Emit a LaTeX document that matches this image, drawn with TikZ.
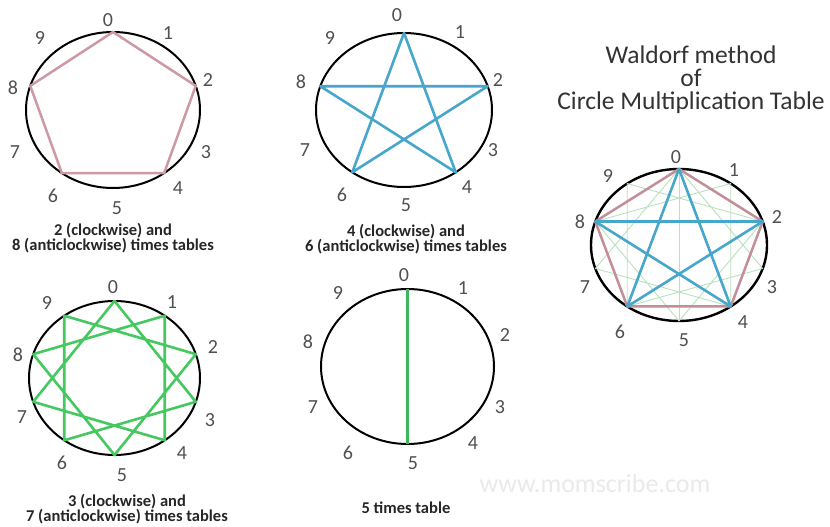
\documentclass[tikz,border=0pt]{standalone}
\usepackage{fontspec}
\setmainfont{Carlito}
\usetikzlibrary{calc}
\definecolor{rosepink}{HTML}{CD9AA4}
\definecolor{darkrose}{HTML}{C48E98}
\definecolor{starblue}{HTML}{46A7CB}
\definecolor{stargreen}{HTML}{45C860}
\definecolor{linegreen}{HTML}{3DB85A}
\definecolor{labelgray}{HTML}{505050}
\definecolor{titlegray}{HTML}{333333}
\definecolor{faintgreen}{HTML}{B8E2BE}
\definecolor{wmgray}{HTML}{EAEAEA}
\begin{document}
\begin{tikzpicture}[x=1pt,y=-1pt,
  rim/.style={draw=black, line width=2pt},
  numlabel/.style={text=labelgray, font=\fontsize{20}{24}\selectfont, inner sep=0pt},
  capt/.style={font=\bfseries\fontsize{16.5}{14}\selectfont, text=black!85, inner sep=0pt, align=center},
  titletext/.style={font=\fontsize{25.5}{23}\selectfont, text=titlegray, inner sep=0pt, align=center},
  pentaline/.style={draw=rosepink, line width=2.5pt, line join=round},
  bluestar/.style={draw=starblue, line width=2.6pt, line join=round},
  greenstar/.style={draw=stargreen, line width=2.6pt, line join=round},
  greenline/.style={draw=linegreen, line width=2.6pt},
  faintline/.style={draw=faintgreen, line width=0.9pt, line join=round}
]
\fill[white] (0,0) rectangle (830,527);
\useasboundingbox (0,0) rectangle (830,527);

% centres
\coordinate (A) at (113,110);
\coordinate (B) at (404,110);
\coordinate (C) at (114.5,378);
\coordinate (D) at (407.5,366.5);
\coordinate (E) at (679,245);

% rims
\draw[rim] (A) ellipse [x radius=87, y radius=78];
\draw[rim] (B) ellipse [x radius=88, y radius=77];
\draw[rim] (C) ellipse [x radius=85.5, y radius=77];
\draw[rim] (D) ellipse [x radius=86.5, y radius=77.5];
\draw[rim, line width=2.4pt] (E) ellipse [x radius=88, y radius=76];

% points on the rims
\foreach \k in {0,...,9}{
  \coordinate (A\k) at ($(A)+({-90+36*\k}:87 and 78)$);
  \coordinate (B\k) at ($(B)+({-90+36*\k}:88 and 77)$);
  \coordinate (C\k) at ($(C)+({-90+36*\k}:85.5 and 77)$);
  \coordinate (D\k) at ($(D)+({-90+36*\k}:86.5 and 77.5)$);
  \coordinate (E\k) at ($(E)+({-90+36*\k}:88 and 76)$);
}

% 2 / 8 times tables
\draw[pentaline] (A0) -- (A2) -- (A4) -- (A6) -- (A8) -- cycle;
% 4 / 6 times tables
\draw[bluestar] (B0) -- (B4) -- (B8) -- (B2) -- (B6) -- cycle;
% 3 / 7 times tables
\draw[greenstar] (C0) -- (C3) -- (C6) -- (C9) -- (C2) -- (C5) -- (C8) -- (C1) -- (C4) -- (C7) -- cycle;
% 5 times table
\draw[greenline] (D0) -- (D5);
% combined
\draw[faintline] (E0) -- (E3) -- (E6) -- (E9) -- (E2) -- (E5) -- (E8) -- (E1) -- (E4) -- (E7) -- cycle;
\draw[faintline] (E0) -- (E5);
\draw[pentaline, draw=darkrose] (E0) -- (E2) -- (E4) -- (E6) -- (E8) -- cycle;
\draw[bluestar] (E0) -- (E4) -- (E8) -- (E2) -- (E6) -- cycle;

% number labels
\foreach \k/\x/\y in {0/108/20,1/168/33,2/208/80,3/206/152,4/178/188,5/117/208,6/53/196,7/15/152,8/13/88,9/40/38}
  \node[numlabel] (Al\k) at (\x,\y) {\k};
\foreach \k/\x/\y in {0/397/15,1/460/32,2/498/80,3/493/150,4/467/187,5/406/205,6/342/195,7/305/150,8/301/82,9/330/38}
  \node[numlabel] (Bl\k) at (\x,\y) {\k};
\foreach \k/\x/\y in {0/113/287,1/172/302,2/213/347,3/210/420,4/182/453,5/122/475,6/62/463,7/22/417,8/18/355,9/47/303}
  \node[numlabel] (Cl\k) at (\x,\y) {\k};
\foreach \k/\x/\y in {0/404/275,1/463/288,2/505/335,3/500/407,4/473/443,5/413/463,6/348/453,7/313/407,8/308/342,9/338/293}
  \node[numlabel] (Dl\k) at (\x,\y) {\k};
\foreach \k/\x/\y in {0/676/157,1/734/170,2/777/217,3/772/287,4/743/322,5/684/340,6/620/332,7/585/287,8/580/222,9/608/176}
  \node[numlabel] (El\k) at (\x,\y) {\k};

% captions
\node[capt] (cap1) at (113,238) {2 (clockwise) and\\8 (anticlockwise) times tables};
\node[capt] (cap2) at (406,239) {4 (clockwise) and\\6 (anticlockwise) times tables};
\node[capt] (cap3) at (127,509) {3 (clockwise) and\\7 (anticlockwise) times tables};
\node[capt] (cap4) at (406,508) {5 times table};

% title
\node[titletext] (title) at (691,80) {Waldorf method\\of\\Circle Multiplication Table};

% watermark
\node[font=\fontsize{26}{30}\selectfont, text=wmgray, inner sep=0pt] (wm) at (595,484) {www.momscribe.com};
\end{tikzpicture}
\end{document}
